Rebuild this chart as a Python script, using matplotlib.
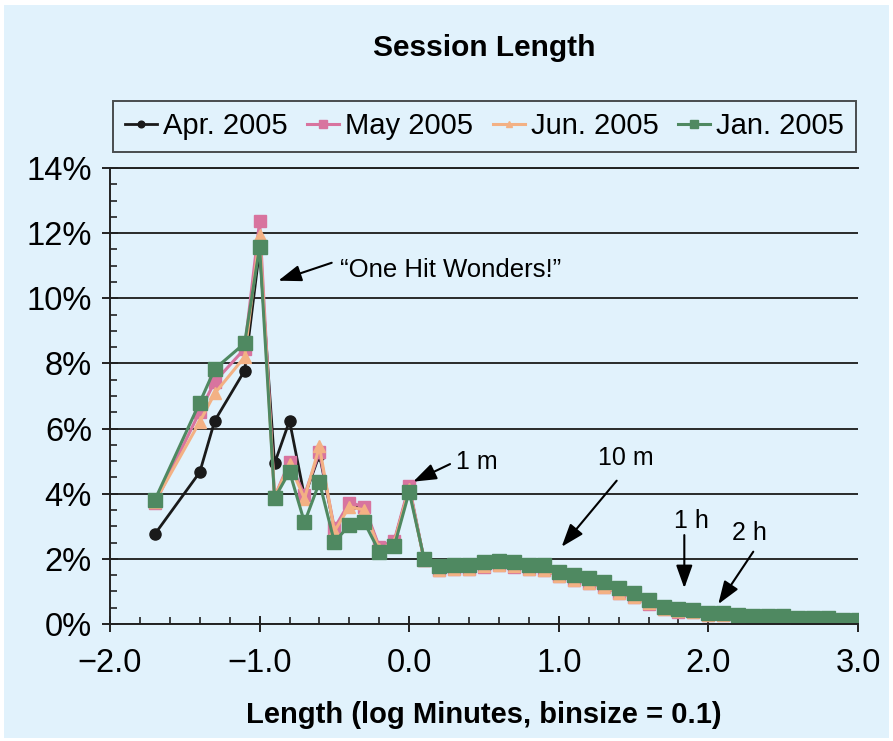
#
# python3 plot.py  -> out.png
#
import matplotlib
matplotlib.use("Agg")
import matplotlib.pyplot as plt
from matplotlib.patches import Rectangle
from matplotlib.ticker import FixedLocator, MultipleLocator

plt.rcParams['font.family'] = ['Liberation Sans', 'DejaVu Sans']

# bins (log10 minutes)
bins = [-1.7, -1.4, -1.3, -1.1,
        -1.0, -0.9, -0.8, -0.7, -0.6, -0.5, -0.4, -0.3, -0.2, -0.1, 0.0,
        0.1, 0.2, 0.3, 0.4, 0.5, 0.6, 0.7, 0.8, 0.9, 1.0,
        1.1, 1.2, 1.3, 1.4, 1.5, 1.6, 1.7, 1.8, 1.9, 2.0,
        2.1, 2.2, 2.3, 2.4, 2.5, 2.6, 2.7, 2.8, 2.9, 3.0]

# percent of sessions
apr = [2.76, 4.66, 6.24, 7.78,
       11.5, 4.93, 6.24, 3.91, 5.20, 2.90, 3.65, 3.55, 2.33, 2.52, 4.20,
       1.96, 1.68, 1.70, 1.70, 1.78, 1.82, 1.78, 1.70, 1.68, 1.49,
       1.37, 1.27, 1.15, 0.97, 0.84, 0.64, 0.47, 0.40, 0.38, 0.30,
       0.29, 0.24, 0.24, 0.24, 0.24, 0.17, 0.17, 0.16, 0.12, 0.11]
may = [3.70, 6.52, 7.44, 8.45,
       12.37, 3.90, 4.98, 3.96, 5.29, 2.94, 3.73, 3.60, 2.37, 2.56, 4.25,
       1.95, 1.66, 1.68, 1.68, 1.76, 1.80, 1.76, 1.68, 1.66, 1.47,
       1.35, 1.25, 1.13, 0.95, 0.82, 0.62, 0.45, 0.38, 0.36, 0.28,
       0.27, 0.22, 0.22, 0.22, 0.22, 0.16, 0.16, 0.16, 0.11, 0.11]
jun = [3.75, 6.21, 7.08, 8.20,
       11.95, 3.90, 4.90, 3.85, 5.45, 2.85, 3.60, 3.50, 2.30, 2.50, 4.15,
       1.96, 1.67, 1.69, 1.69, 1.77, 1.81, 1.77, 1.69, 1.67, 1.48,
       1.36, 1.26, 1.14, 0.96, 0.83, 0.63, 0.46, 0.39, 0.37, 0.29,
       0.28, 0.23, 0.23, 0.23, 0.23, 0.17, 0.16, 0.16, 0.11, 0.11]
jan = [3.81, 6.80, 7.83, 8.62,
       11.58, 3.86, 4.68, 3.12, 4.35, 2.51, 3.04, 3.12, 2.22, 2.39, 4.06,
       2.00, 1.78, 1.81, 1.81, 1.89, 1.94, 1.89, 1.81, 1.81, 1.61,
       1.50, 1.40, 1.28, 1.10, 0.96, 0.74, 0.53, 0.45, 0.43, 0.35,
       0.35, 0.28, 0.25, 0.25, 0.25, 0.17, 0.17, 0.17, 0.12, 0.12]

labels = ["Apr. 2005", "May 2005", "Jun. 2005", "Jan. 2005"]
yticks = [0, 2, 4, 6, 8, 10, 12, 14]
ytick_labels = ["0%", "2%", "4%", "6%", "8%", "10%", "12%", "14%"]
xticks = [-2, -1, 0, 1, 2, 3]
xtick_labels = ["\u22122.0", "\u22121.0", "0.0", "1.0", "2.0", "3.0"]

BG = "#E1F2FC"

fig = plt.figure(figsize=(8.93, 7.41), dpi=100, facecolor="white")
fig.patches.append(Rectangle((0.005, 0.004), 0.991, 0.989, transform=fig.transFigure,
                             facecolor=BG, edgecolor="none", zorder=-10))

ax = fig.add_axes([110/893, 1-624/741, 748/893, 456/741])
ax.set_facecolor(BG)

ax.plot(bins, apr, '-o', color="#1a1a1a", lw=2, ms=8, label=labels[0])
ax.plot(bins, may, '-s', color="#D8749F", lw=2.2, ms=9, label=labels[1])
ax.plot(bins, jun, '-^', color="#F3B184", lw=2.2, ms=8, label=labels[2])
ax.plot(bins, jan, '-s', color="#4F8961", lw=2.2, ms=9.5, label=labels[3])

ax.set_xlim(-2, 3)
ax.set_ylim(0, 14)

ax.yaxis.set_major_locator(FixedLocator(yticks))
ax.set_yticklabels(ytick_labels)
ax.yaxis.set_minor_locator(MultipleLocator(0.5))
ax.xaxis.set_major_locator(FixedLocator(xticks))
ax.set_xticklabels(xtick_labels)
ax.xaxis.set_minor_locator(MultipleLocator(0.2))

ax.tick_params(which='major', direction='inout', length=12, width=1.4, color="#222222",
               labelsize=23.5, pad=7)
ax.tick_params(which='minor', direction='in', length=5, width=1.2, color="#222222")
ax.tick_params(axis='x', which='major', pad=11)

ax.grid(axis='y', which='major', color="#1a1a1a", lw=1.3)
ax.set_axisbelow(True)
ax.spines['right'].set_visible(False)
for s in ('left', 'bottom', 'top'):
    ax.spines[s].set_color("#222222")
    ax.spines[s].set_linewidth(1.4)

ax.set_xlabel("Length (log Minutes, binsize = 0.1)", fontsize=21, fontweight='bold', labelpad=16)
ax.text(0.5, (624-48)/456, "Session Length", transform=ax.transAxes, ha='center', va='center',
        fontsize=21.5, fontweight='bold')

leg = ax.legend(loc='lower left', bbox_to_anchor=(0.004, 1.035, 0.993, 0.121), mode='expand',
                ncol=4, fontsize=21, handlelength=1.1, handletextpad=0.2, columnspacing=0.6,
                markerscale=0.6, frameon=True, fancybox=False, borderaxespad=0)
leg.get_frame().set_edgecolor("#222222")
leg.get_frame().set_linewidth(1.4)
leg.get_frame().set_facecolor(BG)

arrow = dict(arrowstyle='-|>,head_length=0.7,head_width=0.25', color="black", lw=1.5,
             mutation_scale=20, shrinkA=0, shrinkB=0)
ax.annotate("", xy=(-0.875, 10.54), xytext=(-0.518, 11.09), arrowprops=arrow)
ax.text(-0.463, 10.87, "\u201cOne Hit Wonders!\u201d", fontsize=18.5, ha='left', va='center')
ax.annotate("", xy=(0.027, 4.37), xytext=(0.273, 4.91), arrowprops=arrow)
ax.text(0.313, 4.97, "1 m", fontsize=18, ha='left', va='center')
ax.annotate("", xy=(1.019, 2.37), xytext=(1.387, 4.40), arrowprops=arrow)
ax.text(1.262, 5.10, "10 m", fontsize=18, ha='left', va='center')
ax.annotate("", xy=(1.839, 1.10), xytext=(1.839, 2.73), arrowprops=arrow)
ax.text(1.887, 3.17, "1 h", fontsize=18, ha='center', va='center')
ax.annotate("", xy=(2.066, 0.61), xytext=(2.30, 2.22), arrowprops=arrow)
ax.text(2.271, 2.78, "2 h", fontsize=18, ha='center', va='center')

plt.savefig("out.png", dpi=100, facecolor=fig.get_facecolor())
